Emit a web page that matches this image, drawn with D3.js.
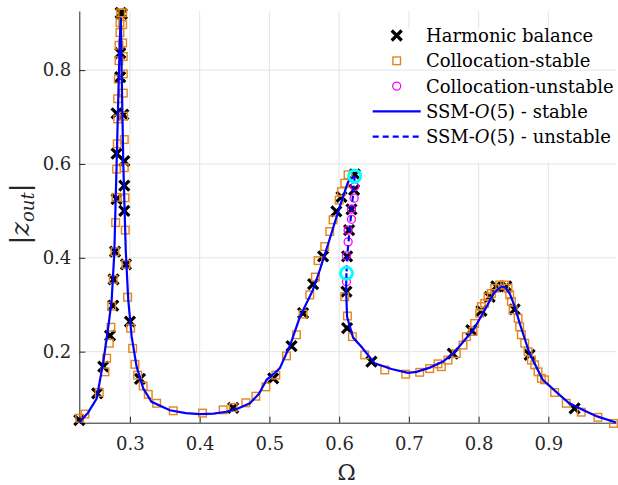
<!DOCTYPE html>
<html>
<head>
<meta charset="utf-8">
<script src="https://cdn.jsdelivr.net/npm/d3@7"></script>
<style>
  body { margin: 0; background: #fff; }
  svg text { font-family: "DejaVu Serif", "Liberation Serif", serif; fill: #262626; }
</style>
</head>
<body>
<div class="chart"></div>
<script>
// SSM-O(5) backbone, stable part before the upper fold
var ssmStable1 = [
  [0.2274,0.049],[0.240,0.070],[0.2523,0.100],[0.2618,0.178],[0.269,0.253],[0.2738,0.310],
  [0.2776,0.410],[0.2809,0.600],[0.2843,0.800],[0.2862,0.890],[0.2870,0.912],[0.2881,0.800],
  [0.2905,0.600],[0.2940,0.416],[0.2976,0.310],[0.3025,0.232],[0.3096,0.168],[0.319,0.122],
  [0.331,0.093],[0.3573,0.075],[0.380,0.069],[0.400,0.067],[0.420,0.068],[0.4385,0.072],
  [0.455,0.079],[0.472,0.090],[0.485,0.110],[0.496,0.140],[0.508,0.155],[0.515,0.165],
  [0.530,0.215],[0.544,0.275],[0.5623,0.331],[0.5723,0.374],[0.586,0.438],[0.600,0.505],
  [0.6128,0.562],[0.6224,0.575]
]
// unstable part between the folds
var ssmUnstable = [[0.6224,0.575],[0.6190,0.520],[0.6150,0.460],[0.6120,0.410],[0.6105,0.367]]
// stable part after the lower fold
var ssmStable2 = [
  [0.6105,0.367],[0.6100,0.331],[0.6114,0.274],[0.620,0.230],[0.6322,0.210],[0.651,0.175],
  [0.675,0.163],[0.6988,0.155],[0.711,0.157],[0.730,0.166],[0.749,0.179],[0.765,0.198],
  [0.780,0.225],[0.792,0.245],[0.810,0.292],[0.822,0.325],[0.8326,0.339],[0.838,0.337],
  [0.8446,0.324],[0.852,0.295],[0.859,0.260],[0.866,0.228],[0.8731,0.196],[0.892,0.140],
  [0.916,0.108],[0.930,0.090],[0.949,0.076],[0.970,0.062],[0.997,0.049]
]

var harmonicBalance = [
  [0.2274,0.054],[0.253,0.111],[0.2618,0.168],[0.2714,0.234],[0.276,0.298],[0.2765,0.354],
  [0.2786,0.413],[0.2809,0.525],[0.2809,0.622],[0.2809,0.708],[0.2860,0.785],[0.2862,0.836],
  [0.2867,0.922],[0.2885,0.920],[0.2904,0.705],[0.2919,0.606],[0.2919,0.554],[0.2919,0.500],
  [0.2943,0.386],[0.300,0.264],[0.3144,0.142],[0.448,0.080],[0.5054,0.143],[0.5317,0.212],
  [0.5483,0.282],[0.5627,0.344],[0.577,0.403],[0.596,0.499],[0.6033,0.530],[0.6224,0.578],
  [0.6215,0.545],[0.6177,0.503],[0.6143,0.459],[0.6114,0.403],[0.6105,0.328],[0.6114,0.250],
  [0.6463,0.179],[0.763,0.196],[0.7896,0.246],[0.804,0.287],[0.8158,0.317],[0.8254,0.339],
  [0.8397,0.339],[0.8517,0.290],[0.8731,0.193],[0.9376,0.079]
]

var collocationStable = [
  [0.228,0.058],[0.2356,0.067],[0.256,0.113],[0.2642,0.157],[0.2666,0.186],[0.2704,0.218],
  [0.2728,0.252],[0.2738,0.297],[0.2761,0.354],[0.2785,0.413],[0.2795,0.475],[0.2800,0.529],
  [0.2809,0.589],[0.2818,0.643],[0.2824,0.696],[0.2824,0.739],[0.2833,0.781],[0.2843,0.820],
  [0.2843,0.853],[0.2857,0.880],[0.2857,0.901],[0.2867,0.922],[0.2896,0.922],[0.2896,0.897],
  [0.2896,0.858],[0.2905,0.829],[0.2905,0.792],[0.2905,0.751],[0.2910,0.702],[0.2919,0.652],
  [0.2919,0.592],[0.2929,0.528],[0.2933,0.459],[0.2943,0.386],[0.2967,0.316],[0.301,0.250],
  [0.3039,0.207],[0.3072,0.173],[0.311,0.150],[0.319,0.127],[0.3263,0.109],[0.3383,0.090],
  [0.3621,0.074],[0.4041,0.069],[0.4337,0.076],[0.448,0.081],[0.4662,0.091],[0.4806,0.105],
  [0.4949,0.125],[0.5092,0.150],[0.5245,0.191],[0.5388,0.236],[0.5483,0.280],[0.5579,0.321],
  [0.5660,0.359],[0.5698,0.394],[0.5794,0.424],[0.5865,0.456],[0.5913,0.481],[0.6000,0.523],
  [0.6033,0.541],[0.6081,0.559],[0.6128,0.577],
  [0.6081,0.317],[0.6119,0.276],[0.6190,0.232],[0.6367,0.193],[0.6654,0.161],[0.6954,0.152],
  [0.7155,0.156],[0.7298,0.164],[0.7417,0.174],[0.7466,0.168],[0.7561,0.182],[0.7680,0.196],
  [0.7776,0.214],[0.7824,0.232],[0.7920,0.243],[0.7943,0.260],[0.8015,0.282],[0.8039,0.296],
  [0.8087,0.303],[0.8135,0.317],[0.8183,0.324],[0.8231,0.335],[0.8302,0.342],[0.8374,0.342],
  [0.8422,0.335],[0.8446,0.321],[0.8470,0.307],[0.8494,0.289],[0.8566,0.271],[0.8589,0.253],
  [0.8613,0.236],[0.8661,0.218],[0.8709,0.200],[0.8757,0.182],[0.8804,0.172],[0.8852,0.157],
  [0.8900,0.143],[0.8946,0.140],[0.9090,0.113],[0.9257,0.090],[0.9472,0.071],[0.9711,0.060],
  [0.9935,0.047]
]

var collocationUnstable = [
  [0.6224,0.552],[0.6215,0.527],[0.6177,0.504],[0.6177,0.482],[0.6129,0.459],[0.6129,0.434],
  [0.6105,0.404],[0.6105,0.349]
]

// fold (saddle-node) points
var foldPoints = [[0.6224,0.574],[0.6105,0.367]]

var xTicks = [0.3, 0.4, 0.5, 0.6, 0.7, 0.8, 0.9]
var yTicks = [0.2, 0.4, 0.6, 0.8]

var legendLabels = ['Harmonic balance', 'Collocation-stable', 'Collocation-unstable',
                    'SSM-', 'SSM-']

var width = 618, height = 485
var fontFamily = '"DejaVu Serif", "Liberation Serif", serif'

var svg = d3.select('.chart').append('svg')
  .attr('width', width)
  .attr('height', height)

var x = d3.scaleLinear().domain([0.2274, 0.997]).range([79.3, 616])
var y = d3.scaleLinear().domain([0.0486, 0.926]).range([422.7, 11])

var gridColor = '#e4e4e4'

// vertical grid
svg.append('g').selectAll('line').data(xTicks).enter().append('line')
  .attr('x1', d => x(d)).attr('x2', d => x(d))
  .attr('y1', y.range()[1]).attr('y2', y.range()[0])
  .attr('stroke', gridColor).attr('stroke-width', 1)

// legend background hides the vertical grid there
svg.append('rect')
  .attr('x', 366).attr('y', 28).attr('width', 250).attr('height', 134)
  .attr('fill', '#fff')

// horizontal grid
svg.append('g').selectAll('line').data(yTicks).enter().append('line')
  .attr('x1', x.range()[0]).attr('x2', x.range()[1])
  .attr('y1', d => y(d)).attr('y2', d => y(d))
  .attr('stroke', gridColor).attr('stroke-width', 1)

// axes
var xAxis = svg.append('g')
  .attr('transform', 'translate(0,' + y.range()[0] + ')')
  .call(d3.axisBottom(x).tickValues(xTicks).tickFormat(d3.format('.1f'))
    .tickSizeInner(-6).tickSizeOuter(0).tickPadding(15))
var yAxis = svg.append('g')
  .attr('transform', 'translate(' + x.range()[0] + ',0)')
  .call(d3.axisLeft(y).tickValues(yTicks).tickFormat(d3.format('.1f'))
    .tickSizeInner(-6).tickSizeOuter(0).tickPadding(8))

;[xAxis, yAxis].forEach(function(g) {
  g.attr('font-family', fontFamily)
  g.select('.domain').attr('stroke', '#262626').attr('stroke-width', 1)
  g.selectAll('.tick line').attr('stroke', '#262626')
  g.selectAll('.tick text')
    .style('font-family', fontFamily)
    .style('font-size', '18px')
    .attr('fill', '#262626')
})

var plot = svg.append('g')

function crossPath(cx, cy, r) {
  return 'M' + (cx - r) + ',' + (cy - r) + 'L' + (cx + r) + ',' + (cy + r) +
         'M' + (cx - r) + ',' + (cy + r) + 'L' + (cx + r) + ',' + (cy - r)
}

var orange = '#e2861c'

// harmonic balance
plot.append('g').selectAll('path').data(harmonicBalance).enter().append('path')
  .attr('d', d => crossPath(x(d[0]), y(d[1]), 5))
  .attr('stroke', '#000').attr('stroke-width', 3.2).attr('fill', 'none')

// collocation stable
plot.append('g').selectAll('rect').data(collocationStable).enter().append('rect')
  .attr('x', d => x(d[0]) - 3.8).attr('y', d => y(d[1]) - 3.8)
  .attr('width', 7.6).attr('height', 7.6)
  .attr('fill', 'none').attr('stroke', orange).attr('stroke-width', 1.4)

// collocation unstable
plot.append('g').selectAll('circle').data(collocationUnstable).enter().append('circle')
  .attr('cx', d => x(d[0])).attr('cy', d => y(d[1])).attr('r', 4)
  .attr('fill', 'none').attr('stroke', '#ff00ff').attr('stroke-width', 1.3)

var line = d3.line().x(d => x(d[0])).y(d => y(d[1]))

plot.append('path').datum(ssmStable1).attr('d', line)
  .attr('fill', 'none').attr('stroke', '#0000ff').attr('stroke-width', 2.2)
plot.append('path').datum(ssmStable2).attr('d', line)
  .attr('fill', 'none').attr('stroke', '#0000ff').attr('stroke-width', 2.2)
plot.append('path').datum(ssmUnstable).attr('d', line)
  .attr('fill', 'none').attr('stroke', '#0000ff').attr('stroke-width', 2.2)
  .attr('stroke-dasharray', '6,4')

plot.append('g').selectAll('circle').data(foldPoints).enter().append('circle')
  .attr('cx', d => x(d[0])).attr('cy', d => y(d[1])).attr('r', 6)
  .attr('fill', 'none').attr('stroke', '#00ffff').attr('stroke-width', 3)

// legend
var legend = svg.append('g')
var ly0 = 35.5, ldy = 25.3, lsym = 396.7, ltext = 426
legend.selectAll('text').data(legendLabels).enter().append('text')
  .attr('x', ltext).attr('y', (d, i) => ly0 + i * ldy)
  .attr('dy', '0.36em')
  .style('font-family', fontFamily)
  .style('font-size', '18px')
  .style('fill', '#000')
  .each(function(d, i) {
    var t = d3.select(this)
    t.text(d)
    if (i >= 3) {
      t.append('tspan').style('font-style', 'italic').text('O')
      t.append('tspan').text('(5) - ' + (i === 3 ? 'stable' : 'unstable'))
    }
  })

legend.append('path').attr('d', crossPath(lsym, ly0, 5))
  .attr('stroke', '#000').attr('stroke-width', 3.2)
legend.append('rect').attr('x', lsym - 3.8).attr('y', ly0 + ldy - 3.8)
  .attr('width', 7.6).attr('height', 7.6)
  .attr('fill', 'none').attr('stroke', orange).attr('stroke-width', 1.4)
legend.append('circle').attr('cx', lsym).attr('cy', ly0 + 2 * ldy).attr('r', 4)
  .attr('fill', 'none').attr('stroke', '#ff00ff').attr('stroke-width', 1.3)
legend.append('line').attr('x1', 372.7).attr('x2', 420.7)
  .attr('y1', ly0 + 3 * ldy).attr('y2', ly0 + 3 * ldy)
  .attr('stroke', '#0000ff').attr('stroke-width', 2.2)
legend.append('line').attr('x1', 372.7).attr('x2', 420.7)
  .attr('y1', ly0 + 4 * ldy).attr('y2', ly0 + 4 * ldy)
  .attr('stroke', '#0000ff').attr('stroke-width', 2.2)
  .attr('stroke-dasharray', '6,4')

// axis labels
svg.append('text')
  .attr('x', 346.7).attr('y', 480)
  .attr('text-anchor', 'middle')
  .style('font-family', fontFamily)
  .style('font-size', '22px')
  .text('\u03A9')

var yl = svg.append('text')
  .attr('transform', 'translate(29,214) rotate(-90)')
  .attr('text-anchor', 'middle')
  .style('font-family', fontFamily)
  .style('font-size', '26px')
yl.append('tspan').text('|')
yl.append('tspan').style('font-style', 'italic').text('z')
yl.append('tspan').style('font-style', 'italic').style('font-size', '18px')
  .attr('dy', '5').text('out')
yl.append('tspan').attr('dy', '-5').text('|')
</script>
</body>
</html>
